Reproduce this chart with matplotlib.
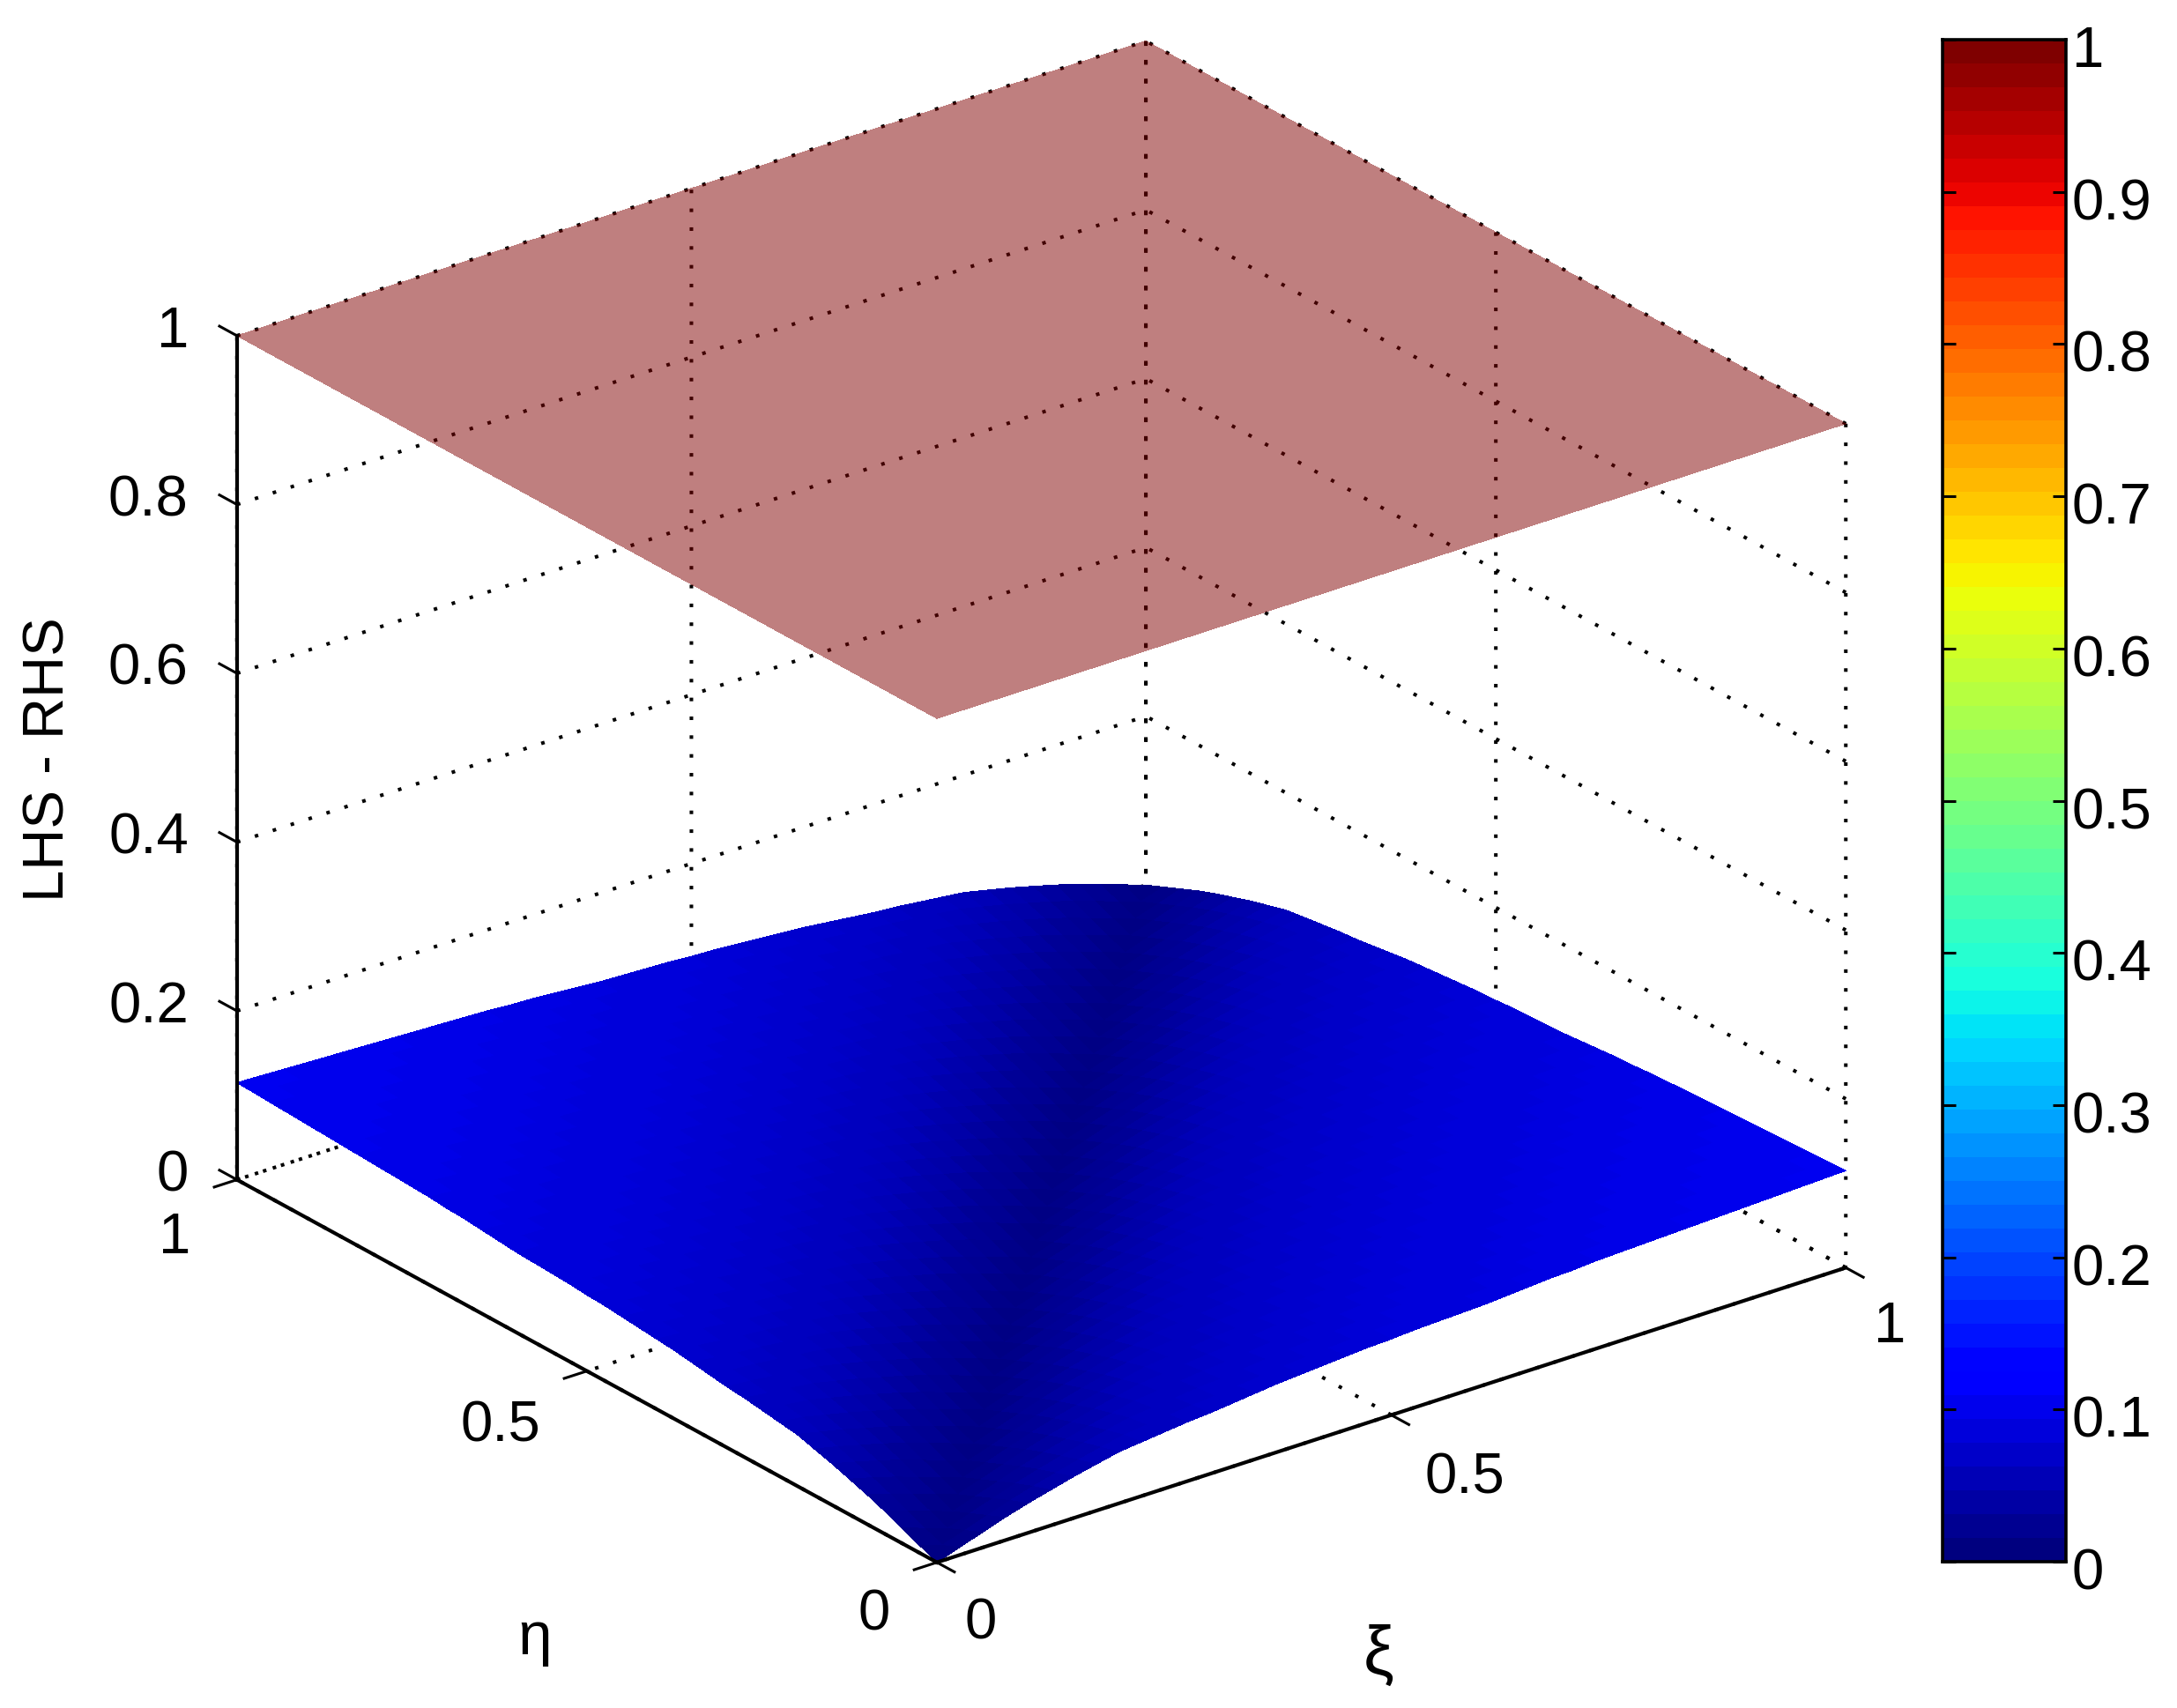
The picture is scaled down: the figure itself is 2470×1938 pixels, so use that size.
import matplotlib
matplotlib.use('Agg')
import matplotlib.pyplot as plt
import matplotlib.transforms as mtransforms
import numpy as np
from mpl_toolkits.mplot3d import proj3d

plt.rcParams['font.family'] = ['Liberation Sans', 'DejaVu Sans']

# gap between the two sides, read along the surface edges every 0.025 of |xi - eta|
gap_profile = [0.000, 0.009, 0.018, 0.027, 0.035, 0.042, 0.049, 0.055, 0.061, 0.064, 0.067,
               0.070, 0.072, 0.075, 0.078, 0.081, 0.083, 0.085, 0.087, 0.089, 0.090,
               0.092, 0.093, 0.094, 0.095, 0.097, 0.099, 0.101, 0.102, 0.104, 0.105,
               0.106, 0.107, 0.108, 0.109, 0.110, 0.111, 0.112, 0.113, 0.114, 0.115]
grid_xi = np.arange(41) / 40
grid_eta = np.arange(41) / 40
upper_xi = [0, 1]
upper_eta = [0, 1]
upper_z = [[1, 1], [1, 1]]

xi_ticks = [0, 0.5, 1]
xi_labels = ['0', '0.5', '1']
eta_ticks = [0, 0.5, 1]
eta_labels = ['0', '0.5', '1']
z_ticks = [0, 0.2, 0.4, 0.6, 0.8, 1]
z_labels = ['0', '0.2', '0.4', '0.6', '0.8', '1']
cbar_ticks = [0, 0.1, 0.2, 0.3, 0.4, 0.5, 0.6, 0.7, 0.8, 0.9, 1]
cbar_labels = ['0', '0.1', '0.2', '0.3', '0.4', '0.5', '0.6', '0.7', '0.8', '0.9', '1']

W, H = 2470, 1938
FONT = 47
jet = plt.get_cmap('jet', 64)
dots = (0, (1, 4.3))

fig = plt.figure(figsize=(W / 100, H / 100), dpi=100, facecolor='white')
side = 2060
ax = fig.add_axes([123.7 / W, -29.5 / H, side / W, side / H], projection='3d',
                  proj_type='ortho', computed_zorder=False)
ax.patch.set_alpha(0)
ax.set_box_aspect((826, 826, 670))
ax.view_init(elev=24.9, azim=-127.6)
ax.set_xlim(0, 1)
ax.set_ylim(0, 1)
ax.set_zlim(0, 1)

ax.set_xticks(xi_ticks)
ax.set_yticks(eta_ticks)
ax.set_zticks(z_ticks)
ax.set_xticklabels([])
ax.set_yticklabels([])
ax.set_zticklabels([])
ax.grid(True)
for axis in (ax.xaxis, ax.yaxis, ax.zaxis):
    axis.set_pane_color((1, 1, 1, 0))
    axis.pane.set_edgecolor('none')
    axis.line.set_color('none')
    axis._axinfo['grid'].update(color='black', linewidth=2.9, linestyle=dots)
    axis._axinfo['tick'].update(inward_factor=0, outward_factor=0)

lower_z = np.array(gap_profile)[np.abs(np.subtract.outer(np.arange(41), np.arange(41)))]
X, Y = np.meshgrid(grid_xi, grid_eta)
ax.plot_surface(X, Y, lower_z, cmap='jet', vmin=0, vmax=1.15, rstride=1, cstride=1,
                linewidth=0, antialiased=False, shade=False, zorder=2)
X2, Y2 = np.meshgrid(upper_xi, upper_eta)
ax.plot_surface(X2, Y2, np.array(upper_z), color=jet(1.0), alpha=0.5, linewidth=0,
                antialiased=False, shade=False, zorder=3)

# axis lines and tick marks
line_kw = dict(color='black', linewidth=3.0, zorder=4, clip_on=False)
tick_kw = dict(color='black', linewidth=2.2, zorder=4, clip_on=False)
ax.plot([0, 1], [0, 0], [0, 0], **line_kw)
ax.plot([0, 0], [0, 1], [0, 0], **line_kw)
ax.plot([0, 0], [1, 1], [0, 1], **line_kw)
mark = 0.025
for v in xi_ticks:
    ax.plot([v, v], [0, -mark], [0, 0], **tick_kw)
for v in eta_ticks:
    ax.plot([0, -mark], [v, v], [0, 0], **tick_kw)
for v in z_ticks:
    ax.plot([0, 0], [1, 1 + mark], [v, v], **tick_kw)


def label_at(x, y, z, text, dx, dy, ha='center'):
    px, py, _ = proj3d.proj_transform(x, y, z, ax.get_proj())
    ax.annotate(text, xy=(px, py), xytext=(dx, dy), textcoords='offset pixels', ha=ha,
                va='center', fontsize=FONT, annotation_clip=False)


xi_offsets = [(50, -70), (83, -72), (50, -68)]
eta_offsets = [(-71, -60), (-98, -63), (-71, -66)]
for v, s, off in zip(xi_ticks, xi_labels, xi_offsets):
    label_at(v, 0, 0, s, off[0], off[1])
for v, s, off in zip(eta_ticks, eta_labels, eta_offsets):
    label_at(0, v, 0, s, off[0], off[1])
for v, s in zip(z_ticks, z_labels):
    label_at(0, 1, v, s, -55, 4, ha='right')

fig.text(35 * 1.5753 / W, 1 - 547 * 1.5753 / H, 'LHS - RHS', rotation=90, fontsize=FONT,
         ha='center', va='center')
fig.text(385 * 1.5753 / W, 1 - 1180 * 1.5753 / H, 'η', fontsize=50, ha='center', va='center')
fig.text(993 * 1.5753 / W, 1 - 1193 * 1.5753 / H, 'ξ', fontsize=56, ha='center', va='center')

# colour bar
cax = fig.add_axes([2204 / W, 1 - 1772 / H, 140 / W, 1727 / H])
levels = np.linspace(0, 1, 64)[:, None]
cax.imshow(levels, cmap=jet, vmin=0, vmax=1, origin='lower', aspect='auto',
           extent=[0, 1, 0, 1], interpolation='nearest')
cax.set_xticks([])
cax.yaxis.tick_right()
cax.set_yticks(cbar_ticks)
cax.set_yticklabels(cbar_labels, fontsize=FONT)
cax.tick_params(axis='y', direction='in', left=True, right=True, length=11, width=2.2, pad=5)
for sp in cax.spines.values():
    sp.set_linewidth(2.6)
shift = mtransforms.ScaledTranslation(0, -8 / 100, fig.dpi_scale_trans)
for t in cax.get_yticklabels():
    t.set_transform(t.get_transform() + shift)

fig.savefig('out.png', dpi=100, facecolor='white')
